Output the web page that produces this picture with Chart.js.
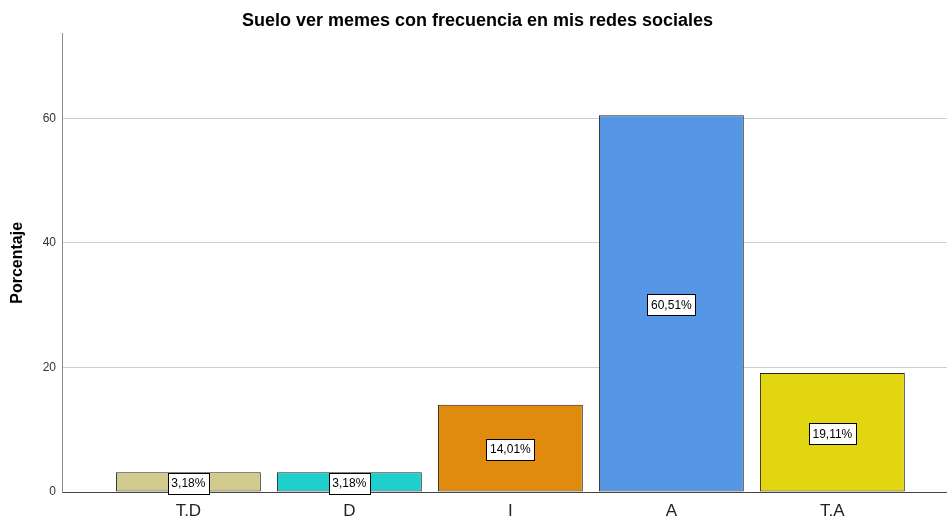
<!DOCTYPE html>
<html>
<head>
<meta charset="utf-8">
<script src="https://cdn.jsdelivr.net/npm/chart.js@4"></script>
<style>
  html, body { margin: 0; padding: 0; background: #ffffff; }
  #wrap { width: 947px; height: 519px; }
</style>
</head>
<body>
<div id="wrap"><canvas id="c" width="947" height="519"></canvas></div>
<script>
const categories = ['T.D', 'D', 'I', 'A', 'T.A'];
const percentages = [3.18, 3.18, 14.01, 60.51, 19.11];
const yTickValues = [0, 20, 40, 60];
const chartTitle = 'Suelo ver memes con frecuencia en mis redes sociales';
const yAxisTitle = 'Porcentaje';

const FONT = '"Liberation Sans", Arial, sans-serif';
const barFill = ['#D1CB8E', '#1FCFCB', '#E08A0E', '#5597E5', '#E2D611'];

function fmtPct(v) { return v.toFixed(2).replace('.', ',') + '%'; }

const valueBoxes = {
  id: 'valueBoxes',
  afterDatasetsDraw(chart) {
    const ctx = chart.ctx;
    const meta = chart.getDatasetMeta(0);
    ctx.save();
    ctx.font = '12px ' + FONT;
    ctx.textAlign = 'center';
    ctx.textBaseline = 'middle';
    meta.data.forEach((bar, i) => {
      const txt = fmtPct(percentages[i]);
      const cx = bar.x;
      const cy = (bar.y + bar.base) / 2 + 1.5;
      const w = Math.round(ctx.measureText(txt).width + 7);
      const h = 21;
      const x0 = Math.round(cx - w / 2) + 0.5;
      const y0 = Math.round(cy - h / 2) + 0.5;
      ctx.fillStyle = '#ffffff';
      ctx.fillRect(x0, y0, w, h);
      ctx.strokeStyle = '#000000';
      ctx.lineWidth = 1;
      ctx.strokeRect(x0, y0, w, h);
      ctx.fillStyle = '#000000';
      ctx.fillText(txt, cx, cy + 0.5);
    });
    ctx.restore();
  }
};

new Chart(document.getElementById('c'), {
  type: 'bar',
  data: {
    datasets: [{
      data: categories.map((c, i) => ({ x: i, y: percentages[i] })),
      backgroundColor: barFill,
      borderColor: '#262626',
      borderWidth: 1,
      borderSkipped: false,
      barPercentage: 0.9,
      categoryPercentage: 1.0
    }]
  },
  options: {
    responsive: false,
    animation: false,
    layout: { padding: { left: 8, right: 0, top: 0, bottom: 0 } },
    plugins: {
      legend: { display: false },
      tooltip: { enabled: false },
      title: {
        display: true,
        text: chartTitle,
        color: '#000000',
        font: { family: FONT, size: 18, weight: 'bold' },
        padding: { top: 10, bottom: 2 }
      }
    },
    scales: {
      x: {
        type: 'linear',
        offset: false,
        min: -0.785,
        max: 4.712,
        afterBuildTicks: (scale) => { scale.ticks = categories.map((c, i) => ({ value: i })); },
        afterFit: (scale) => { scale.height = 27; },
        grid: { display: false, drawTicks: false, offset: false },
        border: { display: true, color: '#444444', width: 1 },
        ticks: {
          callback: (v) => categories[v] ?? '',
          color: '#222222',
          font: { family: FONT, size: 17 },
          padding: 9,
          maxRotation: 0,
          autoSkip: false
        }
      },
      y: {
        min: 0,
        max: 73.6,
        afterBuildTicks: (scale) => { scale.ticks = yTickValues.map(v => ({ value: v })); },
        afterFit: (scale) => { scale.width = 54; },
        grid: {
          color: (ctx) => (ctx.tick && ctx.tick.value === 0) ? 'rgba(0,0,0,0)' : '#cfcfcf',
          lineWidth: 1,
          drawTicks: false
        },
        border: { display: true, color: '#8a8a8a', width: 1 },
        ticks: {
          color: '#333333',
          font: { family: FONT, size: 12 },
          padding: 6
        },
        title: {
          display: true,
          text: yAxisTitle,
          color: '#000000',
          font: { family: FONT, size: 16, weight: 'bold' },
          padding: { top: 0, bottom: 0 }
        }
      }
    }
  },
  plugins: [valueBoxes]
});
</script>
</body>
</html>
